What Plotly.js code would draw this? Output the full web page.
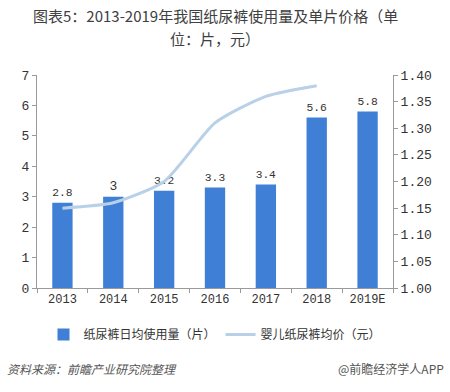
<!DOCTYPE html>
<html>
<head>
<meta charset="utf-8">
<script src="https://cdn.plot.ly/plotly-3.0.1.min.js"></script>
<style>html,body{margin:0;padding:0;background:#fff;}#chart{width:450px;height:392px;}</style>
</head>
<body>
<div id="chart"></div>
<script>
const categories = ['2013', '2014', '2015', '2016', '2017', '2018', '2019E'];
const dailyUsage = [2.8, 3, 3.2, 3.3, 3.4, 5.6, 5.8];
const avgPrice = [1.15, 1.16, 1.20, 1.31, 1.36, 1.38, null];
const usageLabels = ['2.8', '3', '3.2', '3.3', '3.4', '5.6', '5.8'];
const seriesNames = ['纸尿裤日均使用量（片）', '婴儿纸尿裤均价（元）'];
const titleLines = ['图表5：2013-2019年我国纸尿裤使用量及单片价格（单', '位：片，元）'];

const monoFont = 'Liberation Mono, DejaVu Sans Mono, monospace';
const cjkFont = 'Noto Sans CJK SC, sans-serif';

const traces = [
  {
    type: 'bar', x: categories, y: dailyUsage, name: seriesNames[0],
    marker: {color: '#3f80d6'},
    text: usageLabels, textposition: 'outside', cliponaxis: false,
    textfont: {family: monoFont, size: 13, color: '#333'},
    hoverinfo: 'skip'
  },
  {
    type: 'scatter', mode: 'lines', x: categories, y: avgPrice, name: seriesNames[1],
    yaxis: 'y2', line: {color: '#b8d0e8', width: 3, shape: 'spline', smoothing: 0.6},
    connectgaps: false, hoverinfo: 'skip'
  }
];

const layout = {
  width: 450, height: 392,
  margin: {l: 37, r: 57, t: 75, b: 104},
  paper_bgcolor: '#fff', plot_bgcolor: '#fff',
  showlegend: true,
  bargap: 0.6,
  xaxis: {
    type: 'category', showgrid: false, zeroline: false,
    showline: true, linecolor: '#9a9a9a', linewidth: 1,
    ticks: 'outside', tickson: 'boundaries', ticklen: 4, tickcolor: '#9a9a9a',
    tickfont: {family: monoFont, size: 12, color: '#333'}
  },
  yaxis: {
    range: [0, 7], dtick: 1, showgrid: false, zeroline: false,
    showline: true, linecolor: '#9a9a9a', linewidth: 1,
    ticks: 'outside', ticklen: 4, tickcolor: '#9a9a9a',
    tickfont: {family: monoFont, size: 13, color: '#333'}
  },
  yaxis2: {
    overlaying: 'y', side: 'right', range: [1.0, 1.4], dtick: 0.05, tickformat: '.2f',
    showgrid: false, zeroline: false,
    showline: true, linecolor: '#9a9a9a', linewidth: 1,
    ticks: 'outside', ticklen: 4, tickcolor: '#9a9a9a',
    tickfont: {family: monoFont, size: 13, color: '#333'}
  },
  legend: {
    orientation: 'h', x: 0.5, xanchor: 'center', y: -0.15, yanchor: 'top',
    font: {family: cjkFont, size: 12, color: '#333'},
    itemwidth: 30, tracegroupgap: 0
  },
  annotations: [
    {text: titleLines[0], xref: 'paper', yref: 'paper', borderpad: 0,
     x: 0.5, xanchor: 'center', y: 1.277, yanchor: 'middle', showarrow: false,
     font: {family: cjkFont, size: 15, color: '#404040'}},
    {text: titleLines[1], xref: 'paper', yref: 'paper', borderpad: 0,
     x: 0.5, xanchor: 'center', y: 1.171, yanchor: 'middle', showarrow: false,
     font: {family: cjkFont, size: 15, color: '#404040'}},
    {text: '<i>资料来源：前瞻产业研究院整理</i>', xref: 'paper', yref: 'paper',
     x: -0.09, xanchor: 'left', y: -0.38, yanchor: 'middle', showarrow: false,
     font: {family: cjkFont, size: 12, color: '#555'}},
    {text: '@前瞻经济学人APP', xref: 'paper', yref: 'paper',
     x: 1.15, xanchor: 'right', y: -0.38, yanchor: 'middle', showarrow: false,
     font: {family: cjkFont, size: 12, color: '#555'}}
  ]
};

Plotly.newPlot('chart', traces, layout, {displayModeBar: false, staticPlot: true});
</script>
</body>
</html>
